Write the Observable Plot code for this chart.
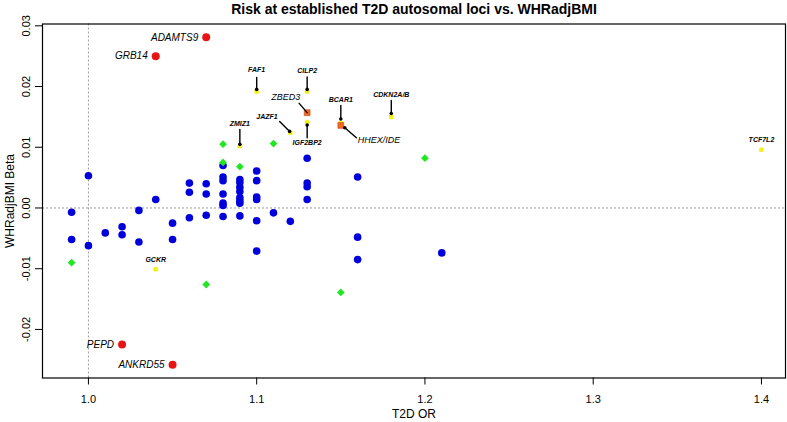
<!DOCTYPE html>
<html>
<head>
<meta charset="utf-8">
<script src="https://cdn.jsdelivr.net/npm/d3@7"></script>
<script src="https://cdn.jsdelivr.net/npm/@observablehq/plot@0.6"></script>
<style>
  html, body { margin: 0; padding: 0; background: #ffffff; }
  #chart svg { display: block; }
</style>
</head>
<body>
<div id="chart"></div>
<script>
// ---------- text ----------
const title = "Risk at established T2D autosomal loci vs. WHRadjBMI";
const xLabel = "T2D OR";
const yLabel = "WHRadjBMI Beta";
const xTicks = [1.0, 1.1, 1.2, 1.3, 1.4];
const yTicks = [-0.02, -0.01, 0.00, 0.01, 0.02, 0.03];

// ---------- data ----------
// other loci (blue circles)
const blueOR = [0.99, 0.99, 1.00, 1.00, 1.01, 1.02, 1.02, 1.03, 1.03, 1.04, 1.05, 1.05,
  1.06, 1.06, 1.06, 1.07, 1.07, 1.07,
  1.08, 1.08, 1.08, 1.08, 1.08, 1.08, 1.08,
  1.09, 1.09, 1.09, 1.09, 1.09, 1.09, 1.09, 1.09,
  1.10, 1.10, 1.10, 1.10, 1.10, 1.10,
  1.11, 1.12, 1.13, 1.13, 1.13, 1.13, 1.16, 1.16, 1.16, 1.21];
const blueBeta = [-0.0007, -0.0052, 0.0053, -0.0062, -0.0041, -0.0031, -0.0044, -0.0004, -0.0056, 0.0014, -0.0025, -0.0052,
  0.0041, 0.0026, -0.0016, 0.0040, 0.0023, -0.0012,
  0.0070, 0.0051, 0.0045, 0.0023, 0.0008, 0.0004, -0.0014,
  0.0047, 0.0042, 0.0034, 0.0027, 0.0017, 0.0012, 0.0008, -0.0013,
  0.0061, 0.0045, 0.0018, 0.0014, -0.0021, -0.0071,
  -0.0008, -0.0022, 0.0082, 0.0041, 0.0035, 0.0014, 0.0051, -0.0048, -0.0085, -0.0074];

// green diamonds
const greenOR = [0.99, 1.07, 1.08, 1.08, 1.09, 1.11, 1.15, 1.20];
const greenBeta = [-0.0090, -0.0126, 0.0105, 0.0075, 0.0068, 0.0106, -0.0139, 0.0082];

// red circles (labelled)
const redGenes = ["ADAMTS9", "GRB14", "PEPD", "ANKRD55"];
const redOR = [1.07, 1.04, 1.02, 1.05];
const redBeta = [0.0281, 0.0250, -0.0225, -0.0258];

// yellow circles (labelled)
const yellowGenes = ["FAF1", "CILP2", "BCAR1", "CDKN2A/B", "ZMIZ1", "IGF2BP2", "JAZF1", "TCF7L2", "GCKR"];
const yellowOR = [1.10, 1.13, 1.15, 1.18, 1.09, 1.13, 1.12, 1.40, 1.04];
const yellowBeta = [0.0192, 0.0192, 0.0140, 0.0150, 0.0102, 0.0141, 0.0124, 0.0096, -0.0101];

// orange squares (labelled)
const orangeGenes = ["ZBED3", "HHEX/IDE"];
const orangeOR = [1.13, 1.15];
const orangeBeta = [0.0157, 0.0136];

// ---------- label styles (pixel offsets from the point) ----------
const redLabel = {text: [-8, 0], anchor: "end", size: 10, weight: "normal"};
const labelStyle = {
  "ADAMTS9": redLabel, "GRB14": redLabel, "PEPD": redLabel, "ANKRD55": redLabel,
  "FAF1":     {dot: [0, -2],   line: [0, -2, 0, -14],   text: [0, -21.5], size: 7, weight: "bold"},
  "CILP2":    {dot: [0, -2],   line: [0, -2, 0, -14.5], text: [0, -21],   size: 7, weight: "bold"},
  "BCAR1":    {dot: [0, -4],   line: [0, -4, 0, -17.5], text: [0, -23.5], size: 7, weight: "bold"},
  "CDKN2A/B": {dot: [0, -3.4], line: [0, -3.4, 0, -16.5], text: [0, -22.5], size: 7, weight: "bold"},
  "ZMIZ1":    {dot: [0, -1.7], line: [0, -1.7, 0, -16.5], text: [0, -22], size: 7, weight: "bold"},
  "IGF2BP2":  {dot: [0, 2.7],  line: [0, 2.7, 0, 15.5], text: [0, 20.5], size: 7, weight: "bold"},
  "JAZF1":    {dot: [-0.7, -1.3], line: [-0.7, -1.3, -10.7, -11.3], text: [-23.3, -16.3], size: 7, weight: "bold"},
  "TCF7L2":   {text: [0, -10], size: 7, weight: "bold"},
  "GCKR":     {text: [0, -9.7], size: 7, weight: "bold"},
  "ZBED3":    {line: [0, 0, -8, -9.3], text: [-21.5, -15.3], size: 9, weight: "normal"},
  "HHEX/IDE": {dot: [4, 2.3], line: [4, 2.3, 15.6, 12.3], text: [17, 15], anchor: "start", size: 9, weight: "normal"}
};

// ---------- build ----------
const pts = (ors, betas, genes) => ors.map((x, i) => ({x, y: betas[i], gene: genes ? genes[i] : ""}));
const blue = pts(blueOR, blueBeta);
const green = pts(greenOR, greenBeta);
const red = pts(redOR, redBeta, redGenes);
const yellow = pts(yellowOR, yellowBeta, yellowGenes);
const orange = pts(orangeOR, orangeBeta, orangeGenes);

const leaderShape = {draw(ctx, l) { ctx.moveTo(0, 0); ctx.lineTo(0, -l); }};

const leaderMarks = [], dotMarks = [], labelMarks = [];
for (const d of [...red, ...yellow, ...orange]) {
  const s = labelStyle[d.gene];
  if (s.line) {
    const [sx, sy, ex, ey] = s.line;
    leaderMarks.push(Plot.vector([d], {
      x: "x", y: "y", dx: sx, dy: sy,
      length: Math.hypot(ex - sx, ey - sy),
      rotate: Math.atan2(ex - sx, -(ey - sy)) * 180 / Math.PI,
      anchor: "start", shape: leaderShape, stroke: "black", strokeWidth: 1.4
    }));
  }
  if (s.dot) dotMarks.push(Plot.dot([d], {x: "x", y: "y", dx: s.dot[0], dy: s.dot[1], r: 1.8, fill: "black"}));
  labelMarks.push(Plot.text([d], {
    x: "x", y: "y", text: "gene", dx: s.text[0], dy: s.text[1],
    textAnchor: s.anchor || "middle", lineAnchor: "middle", fontSize: s.size, fontWeight: s.weight,
    fontStyle: "italic", fill: "black"
  }));
}

const chart = Plot.plot({
  width: 787,
  height: 422,
  marginTop: 23.5,
  marginBottom: 44.5,
  marginLeft: 42,
  marginRight: 2,
  x: {domain: [0.9727, 1.4143]},
  y: {domain: [-0.0280, 0.0303]},
  style: {fontFamily: "'Liberation Sans', Arial, Helvetica, sans-serif", background: "#ffffff", color: "black"},
  marks: [
    Plot.ruleY([0], {stroke: "#9a9a9a", strokeDasharray: "2,2", strokeWidth: 1}),
    Plot.ruleX([1.0], {stroke: "#9a9a9a", strokeDasharray: "2,2", strokeWidth: 1}),
    Plot.dot(blue, {x: "x", y: "y", r: 3.8, fill: "#0000dd"}),
    Plot.dot(green, {x: "x", y: "y", r: 3.5, symbol: "diamond2", fill: "#22e622"}),
    Plot.dot(red, {x: "x", y: "y", r: 4, fill: "#e81414"}),
    Plot.dot(yellow, {x: "x", y: "y", r: 2.5, fill: "#f2f21a"}),
    Plot.dot(orange, {x: "x", y: "y", r: 3.3, symbol: "square", fill: "#f06a1e", stroke: "#c8401a", strokeWidth: 0.6}),
    ...leaderMarks,
    ...dotMarks,
    ...labelMarks,
    Plot.frame({stroke: "black", strokeWidth: 1.2}),
    Plot.axisX({ticks: xTicks, tickSize: 7, tickPadding: 10.5, tickFormat: d => d.toFixed(1), fontSize: 11, label: null}),
    Plot.axisY({ticks: yTicks, tickSize: 7, tickFormat: () => "", label: null}),
    Plot.text(yTicks, {y: d => d, text: d => d.toFixed(2), frameAnchor: "left", dx: -16, rotate: -90,
      textAnchor: "middle", lineAnchor: "middle", fontSize: 11, fill: "black"}),
    Plot.text([yLabel], {text: d => d, frameAnchor: "left", dx: -32, rotate: -90,
      textAnchor: "middle", lineAnchor: "middle", fontSize: 12, fill: "black"}),
    Plot.text([xLabel], {text: d => d, frameAnchor: "bottom", dy: 36, lineAnchor: "middle", fontSize: 12, fill: "black"}),
    Plot.text([title], {text: d => d, frameAnchor: "top", dy: -14.5, lineAnchor: "middle", fontSize: 14, fontWeight: "bold", fill: "black"})
  ]
});
document.getElementById("chart").appendChild(chart);
</script>
</body>
</html>
